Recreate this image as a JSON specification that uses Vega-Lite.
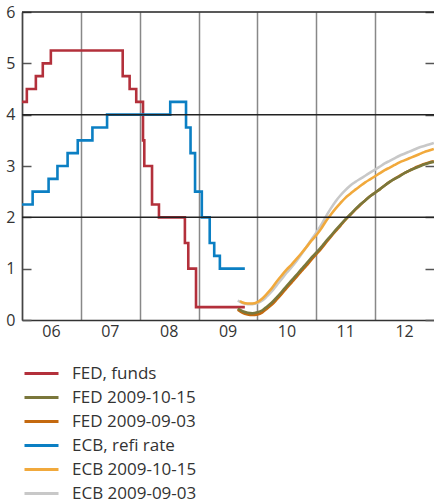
{
  "$schema": "https://vega.github.io/schema/vega-lite/v6.json",
  "width": 412,
  "height": 308,
  "autosize": "none",
  "padding": {"left": 22, "top": 12, "right": 0, "bottom": 182},
  "config": {
    "view": {"stroke": null},
    "font": "Open Sans",
    "axis": {"labelFont": "Open Sans", "labelFontSize": 16, "labelColor": "#333"},
    "legend": {
      "orient": "none",
      "legendX": 8,
      "legendY": 350,
      "symbolType": "M-1.7,0H1.7",
      "symbolSize": 400,
      "symbolStrokeWidth": 3,
      "labelFont": "Open Sans",
      "labelFontSize": 17,
      "labelColor": "#333",
      "labelOffset": 19,
      "rowPadding": 4,
      "padding": 0,
      "title": null
    }
  },
  "datasets": {
    "policy": [
      {"series": "FED, funds", "date": "2006-01-01", "value": 4.25},
      {"series": "FED, funds", "date": "2006-01-31", "value": 4.5},
      {"series": "FED, funds", "date": "2006-03-28", "value": 4.75},
      {"series": "FED, funds", "date": "2006-05-10", "value": 5.0},
      {"series": "FED, funds", "date": "2006-06-29", "value": 5.25},
      {"series": "FED, funds", "date": "2007-09-18", "value": 4.75},
      {"series": "FED, funds", "date": "2007-10-31", "value": 4.5},
      {"series": "FED, funds", "date": "2007-12-11", "value": 4.25},
      {"series": "FED, funds", "date": "2008-01-22", "value": 3.5},
      {"series": "FED, funds", "date": "2008-01-30", "value": 3.0},
      {"series": "FED, funds", "date": "2008-03-18", "value": 2.25},
      {"series": "FED, funds", "date": "2008-04-30", "value": 2.0},
      {"series": "FED, funds", "date": "2008-10-08", "value": 1.5},
      {"series": "FED, funds", "date": "2008-10-29", "value": 1.0},
      {"series": "FED, funds", "date": "2008-12-16", "value": 0.25},
      {"series": "FED, funds", "date": "2009-10-15", "value": 0.25},
      {"series": "ECB, refi rate", "date": "2006-01-01", "value": 2.25},
      {"series": "ECB, refi rate", "date": "2006-03-08", "value": 2.5},
      {"series": "ECB, refi rate", "date": "2006-06-15", "value": 2.75},
      {"series": "ECB, refi rate", "date": "2006-08-09", "value": 3.0},
      {"series": "ECB, refi rate", "date": "2006-10-11", "value": 3.25},
      {"series": "ECB, refi rate", "date": "2006-12-13", "value": 3.5},
      {"series": "ECB, refi rate", "date": "2007-03-14", "value": 3.75},
      {"series": "ECB, refi rate", "date": "2007-06-13", "value": 4.0},
      {"series": "ECB, refi rate", "date": "2008-07-09", "value": 4.25},
      {"series": "ECB, refi rate", "date": "2008-10-15", "value": 3.75},
      {"series": "ECB, refi rate", "date": "2008-11-12", "value": 3.25},
      {"series": "ECB, refi rate", "date": "2008-12-10", "value": 2.5},
      {"series": "ECB, refi rate", "date": "2009-01-21", "value": 2.0},
      {"series": "ECB, refi rate", "date": "2009-03-11", "value": 1.5},
      {"series": "ECB, refi rate", "date": "2009-04-08", "value": 1.25},
      {"series": "ECB, refi rate", "date": "2009-05-13", "value": 1.0},
      {"series": "ECB, refi rate", "date": "2009-10-15", "value": 1.0}
    ],
    "forward": [
      {"series": "FED 2009-09-03", "date": "2009-09-01", "value": 0.20},
      {"series": "FED 2009-09-03", "date": "2009-10-01", "value": 0.14},
      {"series": "FED 2009-09-03", "date": "2009-11-01", "value": 0.11},
      {"series": "FED 2009-09-03", "date": "2009-12-01", "value": 0.10},
      {"series": "FED 2009-09-03", "date": "2010-01-01", "value": 0.11},
      {"series": "FED 2009-09-03", "date": "2010-02-01", "value": 0.15},
      {"series": "FED 2009-09-03", "date": "2010-03-01", "value": 0.22},
      {"series": "FED 2009-09-03", "date": "2010-04-01", "value": 0.30},
      {"series": "FED 2009-09-03", "date": "2010-05-01", "value": 0.40},
      {"series": "FED 2009-09-03", "date": "2010-06-01", "value": 0.51},
      {"series": "FED 2009-09-03", "date": "2010-07-01", "value": 0.62},
      {"series": "FED 2009-09-03", "date": "2010-08-01", "value": 0.73},
      {"series": "FED 2009-09-03", "date": "2010-09-01", "value": 0.84},
      {"series": "FED 2009-09-03", "date": "2010-10-01", "value": 0.95},
      {"series": "FED 2009-09-03", "date": "2010-11-01", "value": 1.06},
      {"series": "FED 2009-09-03", "date": "2010-12-01", "value": 1.17},
      {"series": "FED 2009-09-03", "date": "2011-01-01", "value": 1.28},
      {"series": "FED 2009-09-03", "date": "2011-02-01", "value": 1.39},
      {"series": "FED 2009-09-03", "date": "2011-03-01", "value": 1.50},
      {"series": "FED 2009-09-03", "date": "2011-04-01", "value": 1.62},
      {"series": "FED 2009-09-03", "date": "2011-05-01", "value": 1.73},
      {"series": "FED 2009-09-03", "date": "2011-06-01", "value": 1.84},
      {"series": "FED 2009-09-03", "date": "2011-07-01", "value": 1.95},
      {"series": "FED 2009-09-03", "date": "2011-08-01", "value": 2.05},
      {"series": "FED 2009-09-03", "date": "2011-09-01", "value": 2.15},
      {"series": "FED 2009-09-03", "date": "2011-10-01", "value": 2.24},
      {"series": "FED 2009-09-03", "date": "2011-11-01", "value": 2.33},
      {"series": "FED 2009-09-03", "date": "2011-12-01", "value": 2.41},
      {"series": "FED 2009-09-03", "date": "2012-01-01", "value": 2.48},
      {"series": "FED 2009-09-03", "date": "2012-02-01", "value": 2.55},
      {"series": "FED 2009-09-03", "date": "2012-03-01", "value": 2.62},
      {"series": "FED 2009-09-03", "date": "2012-04-01", "value": 2.69},
      {"series": "FED 2009-09-03", "date": "2012-05-01", "value": 2.75},
      {"series": "FED 2009-09-03", "date": "2012-06-01", "value": 2.81},
      {"series": "FED 2009-09-03", "date": "2012-07-01", "value": 2.86},
      {"series": "FED 2009-09-03", "date": "2012-08-01", "value": 2.91},
      {"series": "FED 2009-09-03", "date": "2012-09-01", "value": 2.96},
      {"series": "FED 2009-09-03", "date": "2012-10-01", "value": 3.00},
      {"series": "FED 2009-09-03", "date": "2012-11-01", "value": 3.04},
      {"series": "FED 2009-09-03", "date": "2012-12-01", "value": 3.07},
      {"series": "FED 2009-09-03", "date": "2012-12-31", "value": 3.09},
      {"series": "FED 2009-10-15", "date": "2009-09-01", "value": 0.22},
      {"series": "FED 2009-10-15", "date": "2009-10-01", "value": 0.17},
      {"series": "FED 2009-10-15", "date": "2009-11-01", "value": 0.14},
      {"series": "FED 2009-10-15", "date": "2009-12-01", "value": 0.13},
      {"series": "FED 2009-10-15", "date": "2010-01-01", "value": 0.15},
      {"series": "FED 2009-10-15", "date": "2010-02-01", "value": 0.19},
      {"series": "FED 2009-10-15", "date": "2010-03-01", "value": 0.26},
      {"series": "FED 2009-10-15", "date": "2010-04-01", "value": 0.34},
      {"series": "FED 2009-10-15", "date": "2010-05-01", "value": 0.44},
      {"series": "FED 2009-10-15", "date": "2010-06-01", "value": 0.55},
      {"series": "FED 2009-10-15", "date": "2010-07-01", "value": 0.66},
      {"series": "FED 2009-10-15", "date": "2010-08-01", "value": 0.77},
      {"series": "FED 2009-10-15", "date": "2010-09-01", "value": 0.88},
      {"series": "FED 2009-10-15", "date": "2010-10-01", "value": 0.99},
      {"series": "FED 2009-10-15", "date": "2010-11-01", "value": 1.10},
      {"series": "FED 2009-10-15", "date": "2010-12-01", "value": 1.21},
      {"series": "FED 2009-10-15", "date": "2011-01-01", "value": 1.31},
      {"series": "FED 2009-10-15", "date": "2011-02-01", "value": 1.42},
      {"series": "FED 2009-10-15", "date": "2011-03-01", "value": 1.53},
      {"series": "FED 2009-10-15", "date": "2011-04-01", "value": 1.64},
      {"series": "FED 2009-10-15", "date": "2011-05-01", "value": 1.75},
      {"series": "FED 2009-10-15", "date": "2011-06-01", "value": 1.86},
      {"series": "FED 2009-10-15", "date": "2011-07-01", "value": 1.96},
      {"series": "FED 2009-10-15", "date": "2011-08-01", "value": 2.06},
      {"series": "FED 2009-10-15", "date": "2011-09-01", "value": 2.16},
      {"series": "FED 2009-10-15", "date": "2011-10-01", "value": 2.25},
      {"series": "FED 2009-10-15", "date": "2011-11-01", "value": 2.33},
      {"series": "FED 2009-10-15", "date": "2011-12-01", "value": 2.41},
      {"series": "FED 2009-10-15", "date": "2012-01-01", "value": 2.48},
      {"series": "FED 2009-10-15", "date": "2012-02-01", "value": 2.55},
      {"series": "FED 2009-10-15", "date": "2012-03-01", "value": 2.62},
      {"series": "FED 2009-10-15", "date": "2012-04-01", "value": 2.69},
      {"series": "FED 2009-10-15", "date": "2012-05-01", "value": 2.75},
      {"series": "FED 2009-10-15", "date": "2012-06-01", "value": 2.80},
      {"series": "FED 2009-10-15", "date": "2012-07-01", "value": 2.86},
      {"series": "FED 2009-10-15", "date": "2012-08-01", "value": 2.91},
      {"series": "FED 2009-10-15", "date": "2012-09-01", "value": 2.95},
      {"series": "FED 2009-10-15", "date": "2012-10-01", "value": 2.99},
      {"series": "FED 2009-10-15", "date": "2012-11-01", "value": 3.03},
      {"series": "FED 2009-10-15", "date": "2012-12-01", "value": 3.06},
      {"series": "FED 2009-10-15", "date": "2012-12-31", "value": 3.08},
      {"series": "ECB 2009-09-03", "date": "2009-09-01", "value": 0.38},
      {"series": "ECB 2009-09-03", "date": "2009-10-01", "value": 0.33},
      {"series": "ECB 2009-09-03", "date": "2009-11-01", "value": 0.31},
      {"series": "ECB 2009-09-03", "date": "2009-12-01", "value": 0.31},
      {"series": "ECB 2009-09-03", "date": "2010-01-01", "value": 0.33},
      {"series": "ECB 2009-09-03", "date": "2010-02-01", "value": 0.38},
      {"series": "ECB 2009-09-03", "date": "2010-03-01", "value": 0.46},
      {"series": "ECB 2009-09-03", "date": "2010-04-01", "value": 0.56},
      {"series": "ECB 2009-09-03", "date": "2010-05-01", "value": 0.68},
      {"series": "ECB 2009-09-03", "date": "2010-06-01", "value": 0.80},
      {"series": "ECB 2009-09-03", "date": "2010-07-01", "value": 0.92},
      {"series": "ECB 2009-09-03", "date": "2010-08-01", "value": 1.03},
      {"series": "ECB 2009-09-03", "date": "2010-09-01", "value": 1.15},
      {"series": "ECB 2009-09-03", "date": "2010-10-01", "value": 1.28},
      {"series": "ECB 2009-09-03", "date": "2010-11-01", "value": 1.42},
      {"series": "ECB 2009-09-03", "date": "2010-12-01", "value": 1.56},
      {"series": "ECB 2009-09-03", "date": "2011-01-01", "value": 1.70},
      {"series": "ECB 2009-09-03", "date": "2011-02-01", "value": 1.85},
      {"series": "ECB 2009-09-03", "date": "2011-03-01", "value": 2.01},
      {"series": "ECB 2009-09-03", "date": "2011-04-01", "value": 2.17},
      {"series": "ECB 2009-09-03", "date": "2011-05-01", "value": 2.31},
      {"series": "ECB 2009-09-03", "date": "2011-06-01", "value": 2.43},
      {"series": "ECB 2009-09-03", "date": "2011-07-01", "value": 2.53},
      {"series": "ECB 2009-09-03", "date": "2011-08-01", "value": 2.62},
      {"series": "ECB 2009-09-03", "date": "2011-09-01", "value": 2.69},
      {"series": "ECB 2009-09-03", "date": "2011-10-01", "value": 2.75},
      {"series": "ECB 2009-09-03", "date": "2011-11-01", "value": 2.81},
      {"series": "ECB 2009-09-03", "date": "2011-12-01", "value": 2.87},
      {"series": "ECB 2009-09-03", "date": "2012-01-01", "value": 2.93},
      {"series": "ECB 2009-09-03", "date": "2012-02-01", "value": 2.99},
      {"series": "ECB 2009-09-03", "date": "2012-03-01", "value": 3.05},
      {"series": "ECB 2009-09-03", "date": "2012-04-01", "value": 3.10},
      {"series": "ECB 2009-09-03", "date": "2012-05-01", "value": 3.15},
      {"series": "ECB 2009-09-03", "date": "2012-06-01", "value": 3.20},
      {"series": "ECB 2009-09-03", "date": "2012-07-01", "value": 3.24},
      {"series": "ECB 2009-09-03", "date": "2012-08-01", "value": 3.28},
      {"series": "ECB 2009-09-03", "date": "2012-09-01", "value": 3.32},
      {"series": "ECB 2009-09-03", "date": "2012-10-01", "value": 3.36},
      {"series": "ECB 2009-09-03", "date": "2012-11-01", "value": 3.39},
      {"series": "ECB 2009-09-03", "date": "2012-12-01", "value": 3.42},
      {"series": "ECB 2009-09-03", "date": "2012-12-31", "value": 3.45},
      {"series": "ECB 2009-10-15", "date": "2009-09-15", "value": 0.37},
      {"series": "ECB 2009-10-15", "date": "2009-10-01", "value": 0.34},
      {"series": "ECB 2009-10-15", "date": "2009-11-01", "value": 0.32},
      {"series": "ECB 2009-10-15", "date": "2009-12-01", "value": 0.32},
      {"series": "ECB 2009-10-15", "date": "2010-01-01", "value": 0.35},
      {"series": "ECB 2009-10-15", "date": "2010-02-01", "value": 0.42},
      {"series": "ECB 2009-10-15", "date": "2010-03-01", "value": 0.51},
      {"series": "ECB 2009-10-15", "date": "2010-04-01", "value": 0.62},
      {"series": "ECB 2009-10-15", "date": "2010-05-01", "value": 0.75},
      {"series": "ECB 2009-10-15", "date": "2010-06-01", "value": 0.87},
      {"series": "ECB 2009-10-15", "date": "2010-07-01", "value": 0.98},
      {"series": "ECB 2009-10-15", "date": "2010-08-01", "value": 1.08},
      {"series": "ECB 2009-10-15", "date": "2010-09-01", "value": 1.19},
      {"series": "ECB 2009-10-15", "date": "2010-10-01", "value": 1.30},
      {"series": "ECB 2009-10-15", "date": "2010-11-01", "value": 1.42},
      {"series": "ECB 2009-10-15", "date": "2010-12-01", "value": 1.54},
      {"series": "ECB 2009-10-15", "date": "2011-01-01", "value": 1.65},
      {"series": "ECB 2009-10-15", "date": "2011-02-01", "value": 1.78},
      {"series": "ECB 2009-10-15", "date": "2011-03-01", "value": 1.92},
      {"series": "ECB 2009-10-15", "date": "2011-04-01", "value": 2.05},
      {"series": "ECB 2009-10-15", "date": "2011-05-01", "value": 2.17},
      {"series": "ECB 2009-10-15", "date": "2011-06-01", "value": 2.28},
      {"series": "ECB 2009-10-15", "date": "2011-07-01", "value": 2.38},
      {"series": "ECB 2009-10-15", "date": "2011-08-01", "value": 2.46},
      {"series": "ECB 2009-10-15", "date": "2011-09-01", "value": 2.54},
      {"series": "ECB 2009-10-15", "date": "2011-10-01", "value": 2.61},
      {"series": "ECB 2009-10-15", "date": "2011-11-01", "value": 2.68},
      {"series": "ECB 2009-10-15", "date": "2011-12-01", "value": 2.74},
      {"series": "ECB 2009-10-15", "date": "2012-01-01", "value": 2.80},
      {"series": "ECB 2009-10-15", "date": "2012-02-01", "value": 2.86},
      {"series": "ECB 2009-10-15", "date": "2012-03-01", "value": 2.92},
      {"series": "ECB 2009-10-15", "date": "2012-04-01", "value": 2.97},
      {"series": "ECB 2009-10-15", "date": "2012-05-01", "value": 3.02},
      {"series": "ECB 2009-10-15", "date": "2012-06-01", "value": 3.07},
      {"series": "ECB 2009-10-15", "date": "2012-07-01", "value": 3.11},
      {"series": "ECB 2009-10-15", "date": "2012-08-01", "value": 3.15},
      {"series": "ECB 2009-10-15", "date": "2012-09-01", "value": 3.19},
      {"series": "ECB 2009-10-15", "date": "2012-10-01", "value": 3.23},
      {"series": "ECB 2009-10-15", "date": "2012-11-01", "value": 3.27},
      {"series": "ECB 2009-10-15", "date": "2012-12-01", "value": 3.30},
      {"series": "ECB 2009-10-15", "date": "2012-12-31", "value": 3.33}
    ],
    "levels": [{"level": 2}, {"level": 4}, {"level": 6}]
  },
  "resolve": {"scale": {"y": "independent"}, "axis": {"y": "independent"}},
  "layer": [
    {
      "layer": [
        {
          "data": {"name": "policy"},
          "mark": {"type": "line", "interpolate": "step-after", "strokeWidth": 2.6},
          "encoding": {
            "x": {
              "field": "date", "type": "temporal",
              "scale": {"type": "utc", "domain": [{"year": 2006, "month": 1, "date": 1, "utc": true}, {"year": 2013, "month": 1, "date": 1, "utc": true}]},
              "axis": {
                "title": null,
                "values": [
                  {"year": 2006, "month": 1, "date": 1, "utc": true},
                  {"year": 2007, "month": 1, "date": 1, "utc": true},
                  {"year": 2008, "month": 1, "date": 1, "utc": true},
                  {"year": 2009, "month": 1, "date": 1, "utc": true},
                  {"year": 2010, "month": 1, "date": 1, "utc": true},
                  {"year": 2011, "month": 1, "date": 1, "utc": true},
                  {"year": 2012, "month": 1, "date": 1, "utc": true}
                ],
                "format": "%y",
                "ticks": false,
                "grid": true,
                "gridColor": "#888",
                "gridWidth": 1.5,
                "gridOpacity": 1,
                "domainColor": "#333",
                "domainWidth": 1.5,
                "labelOffset": 29,
                "labelPadding": 3,
                "labelFlush": false,
                "labelOverlap": false
              }
            },
            "y": {
              "field": "value", "type": "quantitative",
              "scale": {"domain": [0, 6], "nice": false, "zero": true},
              "axis": {
                "title": null,
                "orient": "left",
                "values": [0, 1, 2, 3, 4, 5, 6],
                "grid": false,
                "tickSize": -9,
                "tickColor": "#555",
                "tickWidth": 1.5,
                "domainColor": "#444",
                "domainWidth": 1.5,
                "labelPadding": 16,
                "labelFlush": false,
                "labelOverlap": false
              }
            },
            "color": {
              "field": "series", "type": "nominal",
              "scale": {
                "domain": ["FED, funds", "FED 2009-10-15", "FED 2009-09-03", "ECB, refi rate", "ECB 2009-10-15", "ECB 2009-09-03"],
                "range": ["#b3303b", "#7a773b", "#c4690f", "#0b7fc3", "#f1a93c", "#c8c8c8"]
              },
              "legend": {"title": null}
            }
          }
        },
        {
          "data": {"name": "forward"},
          "mark": {"type": "line", "interpolate": "monotone", "strokeWidth": 2.6},
          "encoding": {
            "x": {"field": "date", "type": "temporal"},
            "y": {"field": "value", "type": "quantitative"},
            "color": {"field": "series", "type": "nominal"}
          }
        }
      ]
    },
    {
      "data": {"name": "levels"},
      "mark": {"type": "rule", "color": "#222", "strokeWidth": 1.5},
      "encoding": {
        "y": {
          "field": "level", "type": "quantitative",
          "scale": {"domain": [0, 6], "nice": false},
          "axis": {
            "title": null,
            "orient": "right",
            "values": [0, 1, 2, 3, 4, 5, 6],
            "labels": false,
            "domain": false,
            "grid": false,
            "tickSize": -9,
            "tickColor": "#555",
            "tickWidth": 1.5
          }
        }
      }
    }
  ]
}
